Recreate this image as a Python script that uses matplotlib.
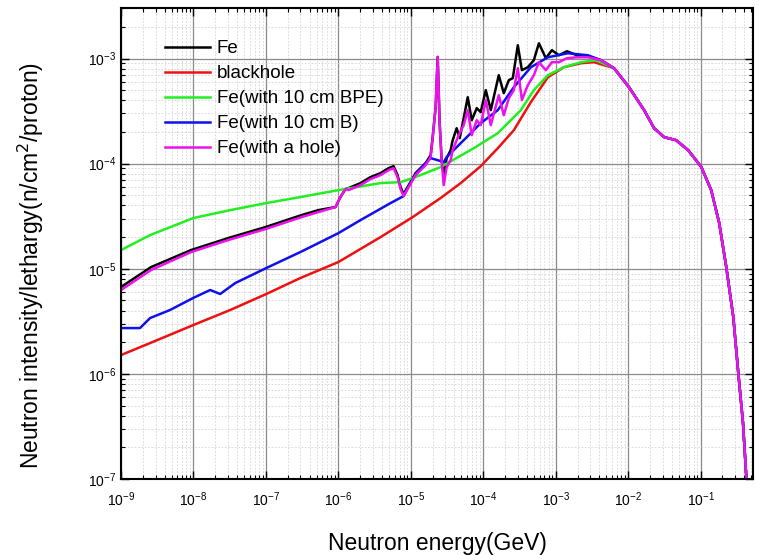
import numpy as np
import matplotlib.pyplot as plt
from matplotlib.ticker import LogLocator, NullFormatter

plt.rcParams['font.family'] = ['Liberation Sans', 'DejaVu Sans']

labels = ['Fe', 'blackhole', 'Fe(with 10 cm BPE)', 'Fe(with 10 cm B)', 'Fe(with a hole)']
colors = ['#000000', '#ee1111', '#22ee22', '#1010ee', '#ee10ee']

# values, as log10(energy / GeV) and log10(intensity)
fe_logE = [-9.0, -8.585, -8.032, -7.520, -7.008, -6.510, -6.275, -6.040, -5.971, -5.902,
           -5.860, -5.694, -5.556, -5.418, -5.307, -5.238, -5.183, -5.141, -5.100, -5.044,
           -4.934, -4.795, -4.726, -4.698, -4.657, -4.629, -4.602, -4.574, -4.546, -4.505,
           -4.450, -4.422, -4.367, -4.325, -4.270, -4.214, -4.159, -4.090, -4.035, -3.965,
           -3.896, -3.786, -3.717, -3.647, -3.592, -3.523, -3.467, -3.385, -3.302, -3.232,
           -3.136, -3.053, -2.956, -2.845, -2.707, -2.555]
fe_logI = [-5.174, -4.984, -4.822, -4.708, -4.604, -4.490, -4.442, -4.413, -4.318, -4.242,
           -4.233, -4.185, -4.128, -4.090, -4.043, -4.024, -4.109, -4.223, -4.290, -4.223,
           -4.090, -3.995, -3.919, -3.748, -3.463, -2.985, -3.615, -3.967, -4.109, -3.948,
           -3.872, -3.777, -3.663, -3.758, -3.567, -3.368, -3.587, -3.472, -3.510, -3.301,
           -3.491, -3.159, -3.330, -3.206, -3.187, -2.874, -3.111, -3.083, -3.016, -2.855,
           -2.997, -2.921, -2.969, -2.931, -2.969, -2.978]

bh_logE = [-9.0, -8.599, -8.004, -7.492, -6.994, -6.524, -5.999, -5.418, -4.975, -4.588,
           -4.311, -4.035, -3.799, -3.578, -3.343, -3.108, -2.887, -2.651, -2.472]
bh_logI = [-5.821, -5.707, -5.536, -5.392, -5.240, -5.088, -4.936, -4.699, -4.509, -4.327,
           -4.185, -4.024, -3.853, -3.682, -3.415, -3.178, -3.083, -3.045, -3.035]

bpe_logE = [-9.0, -8.599, -8.004, -7.492, -6.994, -6.524, -5.999, -5.418, -5.141, -4.975,
            -4.588, -4.131, -3.799, -3.481, -3.302, -3.108, -2.887, -2.651, -2.444]
bpe_logI = [-4.822, -4.680, -4.518, -4.442, -4.375, -4.318, -4.252, -4.185, -4.176, -4.138,
            -4.033, -3.853, -3.710, -3.491, -3.301, -3.159, -3.083, -3.035, -3.016]

b_logE = [-9.0, -8.737, -8.599, -8.322, -8.004, -7.769, -7.631, -7.423, -6.994, -6.524,
          -5.999, -5.694, -5.279, -5.100, -5.044, -4.934, -4.795, -4.726, -4.629, -4.546,
          -4.505, -4.270, -4.035, -3.799, -3.578, -3.343, -3.108, -2.831, -2.555]
b_logI = [-5.564, -5.564, -5.469, -5.392, -5.278, -5.202, -5.240, -5.136, -4.993, -4.841,
          -4.661, -4.537, -4.375, -4.309, -4.233, -4.100, -3.995, -3.948, -3.967, -3.986,
          -3.938, -3.777, -3.615, -3.491, -3.273, -3.083, -2.988, -2.950, -2.969]

hole_logE = [-9.0, -8.585, -8.032, -7.520, -7.008, -6.510, -6.275, -6.040, -5.971, -5.902,
             -5.860, -5.694, -5.556, -5.418, -5.307, -5.238, -5.183, -5.141, -5.100, -5.044,
             -4.934, -4.795, -4.726, -4.698, -4.657, -4.629, -4.602, -4.574, -4.546, -4.505,
             -4.450, -4.422, -4.339, -4.270, -4.214, -4.159, -4.090, -4.035, -3.965, -3.896,
             -3.786, -3.717, -3.647, -3.578, -3.523, -3.467, -3.385, -3.302, -3.232, -3.136,
             -3.053, -2.956, -2.845, -2.707, -2.555]
hole_logI = [-5.202, -5.012, -4.841, -4.727, -4.623, -4.509, -4.461, -4.413, -4.318, -4.242,
             -4.252, -4.204, -4.147, -4.109, -4.062, -4.043, -4.128, -4.242, -4.309, -4.242,
             -4.109, -4.014, -3.938, -3.748, -3.463, -2.985, -3.615, -3.967, -4.204, -4.033,
             -3.967, -3.872, -3.729, -3.634, -3.491, -3.729, -3.587, -3.634, -3.396, -3.634,
             -3.349, -3.539, -3.377, -3.301, -3.092, -3.396, -3.254, -3.159, -3.035, -3.111,
             -3.035, -3.035, -2.997, -2.988, -2.988]

# high-energy part, the same for all five cases
tail_logE = [-2.375, -2.195, -1.988, -1.780, -1.642, -1.503, -1.338, -1.172, -0.992, -0.854,
             -0.743, -0.646, -0.549, -0.480, -0.415, -0.373, -0.332]
tail_logI = [-3.016, -3.092, -3.273, -3.491, -3.663, -3.748, -3.777, -3.872, -4.030, -4.252,
             -4.566, -4.984, -5.459, -5.992, -6.467, -6.942, -7.200]

series = [
    (fe_logE + tail_logE, fe_logI + tail_logI),
    (bh_logE + tail_logE[1:], bh_logI + tail_logI[1:]),
    (bpe_logE + tail_logE[1:], bpe_logI + tail_logI[1:]),
    (b_logE + tail_logE, b_logI + tail_logI),
    (hole_logE + tail_logE, hole_logI + tail_logI),
]

fig = plt.figure(figsize=(7.59, 5.55), dpi=100)
ax = fig.add_axes([0.1594, 0.1369, 0.8327, 0.8486])

for (le, li), lab, c in zip(series, labels, colors):
    ax.plot(10 ** np.array(le), 10 ** np.array(li), color=c, lw=1.8, label=lab)

ax.set_xscale('log')
ax.set_yscale('log')
ax.set_xlim(1e-9, 10 ** -0.277)
ax.set_ylim(1e-7, 10 ** -2.52)

ax.xaxis.set_major_locator(LogLocator(base=10, numticks=20))
ax.xaxis.set_minor_locator(LogLocator(base=10, subs=np.arange(2, 10), numticks=20))
ax.yaxis.set_minor_locator(LogLocator(base=10, subs=np.arange(2, 10), numticks=20))
ax.xaxis.set_minor_formatter(NullFormatter())
ax.yaxis.set_minor_formatter(NullFormatter())

ax.grid(True, which='major', color='#8a8a8a', lw=0.9)
ax.grid(True, which='minor', color='#d4d4d4', lw=0.6, ls=(0, (2, 2)))
ax.set_axisbelow(True)

ax.tick_params(which='both', direction='in', top=True, right=True, labelsize=10)
ax.tick_params(which='major', length=6, width=1)
ax.tick_params(which='minor', length=3, width=0.8)
ax.tick_params(axis='x', pad=8)
for s in ax.spines.values():
    s.set_linewidth(1.5)

ax.set_xlabel('Neutron energy(GeV)', fontsize=16.5, labelpad=17)
ax.set_ylabel('Neutron intensity/lethargy(n/cm$^2$/proton)', fontsize=16.5)
ax.yaxis.set_label_coords(-0.118, 0.454)

ax.legend(loc='upper left', bbox_to_anchor=(0.07, 0.932), frameon=False, fontsize=13.5,
          handlelength=2.4, handletextpad=0.35, labelspacing=0.42, borderpad=0,
          borderaxespad=0)

fig.savefig('out.png', dpi=100)
